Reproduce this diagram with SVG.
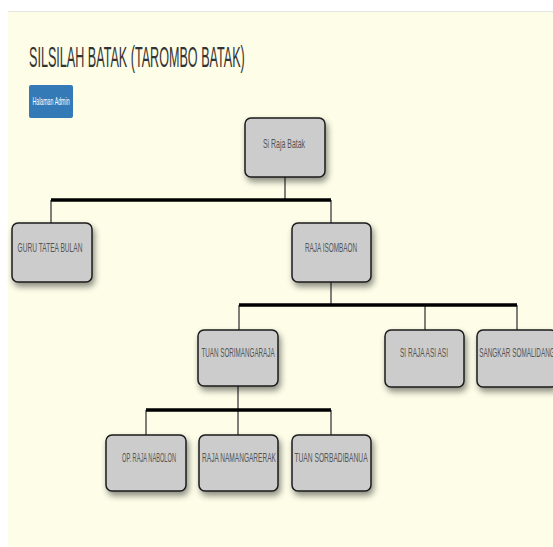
<svg xmlns="http://www.w3.org/2000/svg" width="553" height="547" viewBox="0 0 553 547">
<defs>
<filter id="sh" x="-20%" y="-20%" width="150%" height="160%">
<feDropShadow dx="2" dy="4" stdDeviation="3" flood-color="#000" flood-opacity="0.45"/>
</filter>
<style>
.box{fill:#cccccc;stroke:#1a1a1a;stroke-width:1.5;filter:url(#sh)}
.lbl{font-family:"Liberation Sans",Arial,sans-serif;font-size:13px;fill:#555;text-anchor:middle}
.bus{stroke:#000;stroke-width:3.5;fill:none}
.drop{stroke:#555;stroke-width:1.5;fill:none}
</style>
</defs>
<rect x="0" y="0" width="553" height="547" fill="#ffffff"/>
<rect x="8" y="11" width="545" height="536" fill="#fdfde8"/>
<line x1="8" y1="11.5" x2="553" y2="11.5" stroke="#e6e6e0" stroke-width="1"/>
<g transform="translate(29,67) scale(0.62,1)">
<text x="0" y="0" font-family="'Liberation Sans',Arial,sans-serif" font-size="29" fill="#333" textLength="348" lengthAdjust="spacingAndGlyphs">SILSILAH BATAK (TAROMBO BATAK)</text>
</g>
<g id="btn-admin">
<rect x="29" y="85" width="44" height="33" rx="2" fill="#337ab7"/>
<g transform="translate(51,105) scale(0.6,1)">
<text x="0" y="0" font-family="'Liberation Sans',Arial,sans-serif" font-size="10" fill="#fff" text-anchor="middle" textLength="62" lengthAdjust="spacingAndGlyphs">Halaman Admin</text>
</g>
</g>
<g id="connectors">
<path class="drop" d="M285 177V200M51 200V223M331 200V223"/>
<path class="bus" d="M51 200H331"/>
<path class="drop" d="M331 282V305M239 305V330M425 305V330M517 305V330"/>
<path class="bus" d="M239 305H517"/>
<path class="drop" d="M238 385V410M146 410V435M238 410V435M331 410V435"/>
<path class="bus" d="M146 410H331"/>
</g>
<g id="n-siraja">
<rect class="box" x="245" y="118" width="80" height="59" rx="6"/>
<g transform="translate(284,148) scale(0.6,1)"><text class="lbl" x="0" y="0" textLength="70" lengthAdjust="spacingAndGlyphs">Si Raja Batak</text></g>
</g>
<g id="n-guru">
<rect class="box" x="12" y="223" width="80" height="59" rx="6"/>
<g transform="translate(50,252) scale(0.6,1)"><text class="lbl" x="0" y="0" textLength="108" lengthAdjust="spacingAndGlyphs">GURU TATEA BULAN</text></g>
</g>
<g id="n-isombaon">
<rect class="box" x="292" y="223" width="79" height="59" rx="6"/>
<g transform="translate(331,252) scale(0.6,1)"><text class="lbl" x="0" y="0" textLength="87" lengthAdjust="spacingAndGlyphs">RAJA ISOMBAON</text></g>
</g>
<g id="n-sorimangaraja">
<rect class="box" x="198" y="330" width="80" height="56" rx="6"/>
<g transform="translate(238,357) scale(0.6,1)"><text class="lbl" x="0" y="0" textLength="122" lengthAdjust="spacingAndGlyphs">TUAN SORIMANGARAJA</text></g>
</g>
<g id="n-asiasi">
<rect class="box" x="385" y="330" width="79" height="57" rx="6"/>
<g transform="translate(424,357) scale(0.6,1)"><text class="lbl" x="0" y="0" textLength="80" lengthAdjust="spacingAndGlyphs">SI RAJA ASI ASI</text></g>
</g>
<g id="n-sangkar">
<rect class="box" x="477" y="330" width="80" height="57" rx="6"/>
<g transform="translate(517,357) scale(0.6,1)"><text class="lbl" x="0" y="0" textLength="126" lengthAdjust="spacingAndGlyphs">SANGKAR SOMALIDANG</text></g>
</g>
<g id="n-nabolon">
<rect class="box" x="106" y="435" width="80" height="56" rx="6"/>
<g transform="translate(149,462) scale(0.6,1)"><text class="lbl" x="0" y="0" textLength="90" lengthAdjust="spacingAndGlyphs">OP. RAJA NABOLON</text></g>
</g>
<g id="n-namangarerak">
<rect class="box" x="199" y="435" width="79" height="56" rx="6"/>
<g transform="translate(239,462) scale(0.6,1)"><text class="lbl" x="0" y="0" textLength="123" lengthAdjust="spacingAndGlyphs">RAJA NAMANGARERAK</text></g>
</g>
<g id="n-sorbadibanua">
<rect class="box" x="292" y="435" width="79" height="56" rx="6"/>
<g transform="translate(331,462) scale(0.6,1)"><text class="lbl" x="0" y="0" textLength="122" lengthAdjust="spacingAndGlyphs">TUAN SORBADIBANUA</text></g>
</g>
</svg>
